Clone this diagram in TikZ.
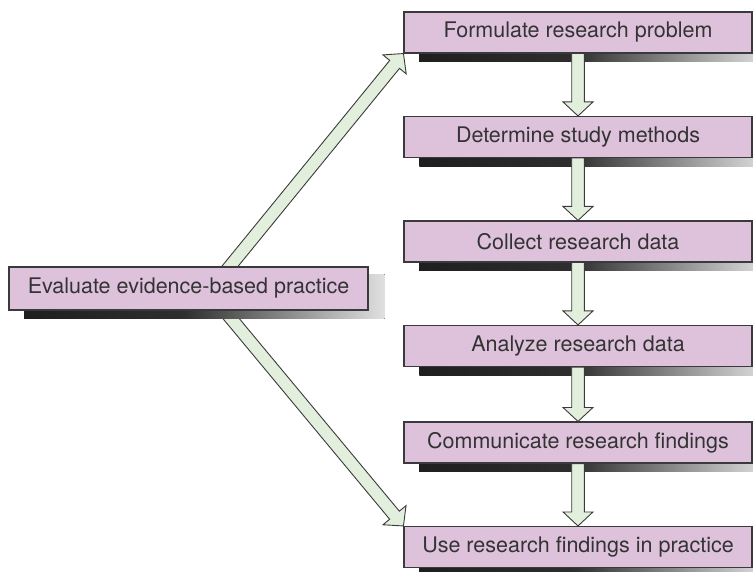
\documentclass[tikz,border=0pt]{standalone}
\usepackage{fontspec}
\setmainfont{TeX Gyre Heros}
\usetikzlibrary{positioning,calc}

\definecolor{boxpink}{HTML}{DEC2DC}
\definecolor{arrowgreen}{HTML}{E3EFDD}
\definecolor{edgegray}{HTML}{3A3A3A}
\definecolor{textgray}{HTML}{333333}

\pgfdeclarehorizontalshading{shadefade}{100bp}{color(0bp)=(black!88); color(25bp)=(black!88);
  color(47bp)=(black!82); color(75bp)=(black!12); color(100bp)=(black!12)}

\pgfdeclarelayer{diag}
\pgfdeclarelayer{shade}
\pgfdeclarelayer{vert}
\pgfsetlayers{diag,shade,vert,main}

% outlined block arrow, #1 = tail, #2 = tip
\newcommand{\fatarrow}[2]{%
  \coordinate (fa-b) at ($(#2)!14pt!(#1)$);
  \draw[blockarrow]
    ($(#1)!6.3pt!90:(#2)$) -- ($(fa-b)!6.3pt!-90:(#1)$) -- ($(fa-b)!15pt!-90:(#1)$)
    -- (#2) -- ($(fa-b)!15pt!90:(#1)$) -- ($(fa-b)!6.3pt!90:(#1)$)
    -- ($(#1)!6.3pt!-90:(#2)$) -- cycle;
}

\begin{document}
\begin{tikzpicture}[
    x=1pt, y=-1pt,
    stage/.style      = {draw=edgegray, line width=1.1pt, fill=boxpink, inner sep=0pt,
                         minimum width=348pt, minimum height=41pt, text=textgray,
                         font=\fontsize{21.5}{24}\selectfont},
    blockarrow/.style = {draw=edgegray, line width=0.9pt, fill=arrowgreen, line join=miter},
    dropshadow/.style = {shading=shadefade}
]
\useasboundingbox (0,0) rectangle (753,572);

% STAGES
\node[stage] (formulate)   at (578,32.5)  {Formulate research problem};
\node[stage] (determine)   at (578,137)   {Determine study methods};
\node[stage] (collect)     at (578,241.5) {Collect research data};
\node[stage] (analyze)     at (578,346)   {Analyze research data};
\node[stage] (communicate) at (578,442.5) {Communicate research findings};
\node[stage] (use)         at (578,547)   {Use research findings in practice};

\node[stage, minimum width=359pt, minimum height=43pt] (evaluate) at (188.5,288.5)
    {Evaluate evidence-based practice};

% SHADOWS
\begin{pgfonlayer}{shade}
\foreach \s in {formulate,determine,collect,analyze,communicate,use,evaluate}{
  \fill[dropshadow] ([shift={(16,8)}]\s.north west) rectangle ([shift={(16,8)}]\s.south east);
}
\end{pgfonlayer}

% VERTICAL ARROWS
\begin{pgfonlayer}{vert}
\foreach \i/\j in {formulate/determine, determine/collect, collect/analyze,
                   analyze/communicate, communicate/use}{
  \fatarrow{\i.south}{\j.north}
}
\end{pgfonlayer}

% DIAGONAL ARROWS
\begin{pgfonlayer}{diag}
\coordinate (fork) at ($(evaluate.center)+(20.5,3.5)$);
\fatarrow{fork}{formulate.south west}
\fatarrow{fork}{use.north west}
\end{pgfonlayer}

\end{tikzpicture}
\end{document}
